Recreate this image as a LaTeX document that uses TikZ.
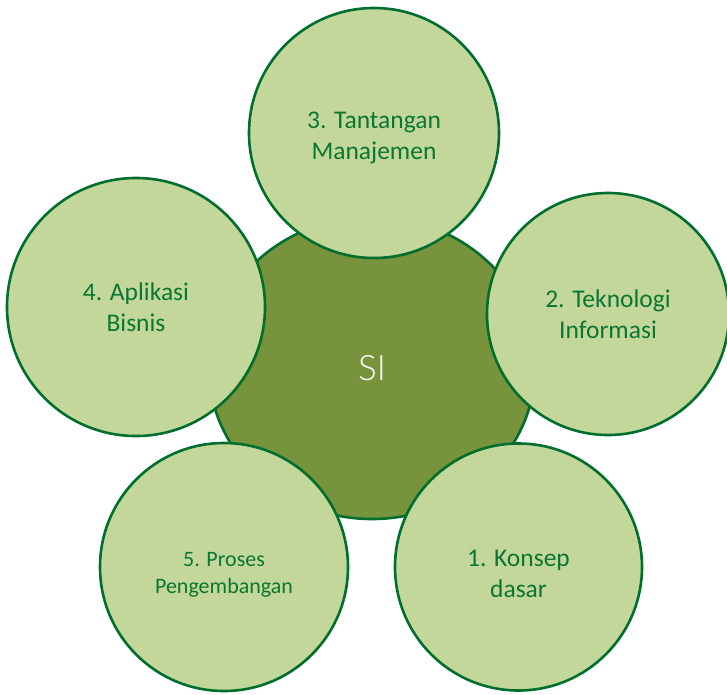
\documentclass[tikz,border=0pt]{standalone}
\usepackage{fontspec}
\setmainfont{Carlito}
\newfontfamily\hubfont{Lato Light}
\usetikzlibrary{shapes.geometric}
\definecolor{ringline}{RGB}{0,110,45}
\definecolor{leaffill}{RGB}{196,215,155}
\definecolor{hubfill}{RGB}{119,147,60}
\definecolor{leaftext}{RGB}{10,118,52}
\tikzset{
  hub/.style={ellipse, draw=ringline, fill=hubfill, line width=2.6pt,
    minimum width=326pt, minimum height=302pt, inner sep=0pt,
    text=white, font=\hubfont\fontsize{35}{40}\selectfont},
  leaf/.style={circle, draw=ringline, fill=leaffill, line width=2.6pt,
    inner sep=0pt},
  leaflabel/.style={align=center, text=leaftext, inner sep=0pt,
    font=\fontsize{25.5}{31}\selectfont},
  smalllabel/.style={leaflabel, font=\fontsize{22}{27}\selectfont}
}
\begin{document}
\begin{tikzpicture}[x=1pt,y=-1pt]
  \useasboundingbox (0,0) rectangle (727,694);
  \clip (0,0) rectangle (727,694);
  % central hub
  \node[hub] (si) at (372,368) {SI};
  % surrounding topic circles
  \node[leaf, minimum size=250pt] (t3) at (374,133) {};
  \node[leaf, minimum size=242pt] (t2) at (608,314) {};
  \node[leaf, minimum size=258pt] (t4) at (136,307) {};
  \node[leaf, minimum size=248pt] (t5) at (224,567) {};
  \node[leaf, minimum size=247pt] (t1) at (518.5,567) {};
  % topic captions
  \node[leaflabel, yshift=-5pt] (l3) at (t3.center) {3. Tantangan\\Manajemen};
  \node[leaflabel] (l2) at (t2.center) {2. Teknologi\\Informasi};
  \node[leaflabel] (l4) at (t4.center) {4. Aplikasi\\Bisnis};
  \node[smalllabel, yshift=-7.5pt] (l5) at (t5.center) {5. Proses\\Pengembangan};
  \node[leaflabel, yshift=-7pt] (l1) at (t1.center) {1. Konsep\\dasar};
\end{tikzpicture}
\end{document}
